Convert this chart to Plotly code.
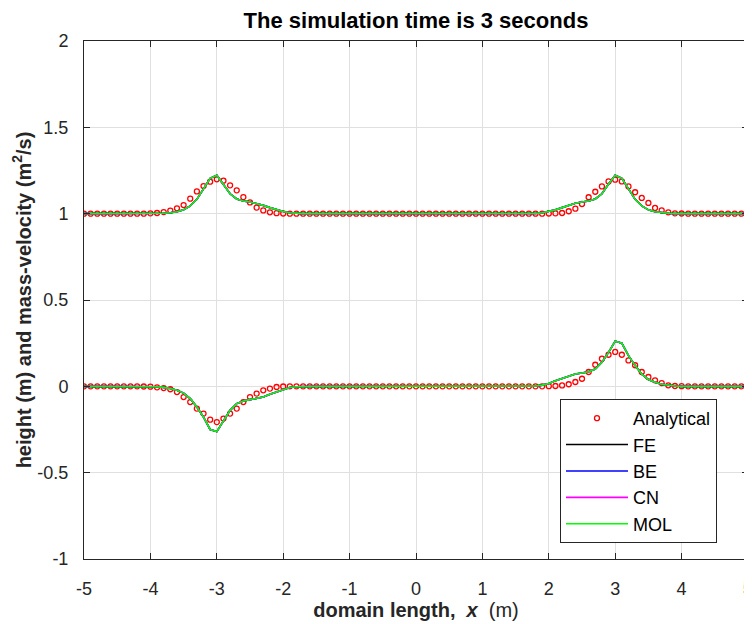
import numpy as np
import plotly.graph_objects as go

# spatial grid (m)
x = np.linspace(-5, 5, 101)

# analytical solution: height (m) and mass-velocity (m^2/s)
h_ana = [1.0, 1.0, 1.0, 1.0, 1.0, 1.0, 1.0, 1.0, 1.0, 1.0,
         1.002, 1.004, 1.009, 1.018, 1.031, 1.050, 1.087, 1.129, 1.160, 1.185,
         1.199, 1.191, 1.164, 1.135, 1.096, 1.065, 1.035, 1.019, 1.008, 1.003,
         1.001, 1.0, 1.0, 1.0, 1.0, 1.0, 1.0, 1.0, 1.0, 1.0,
         1.0, 1.0, 1.0, 1.0, 1.0, 1.0, 1.0, 1.0, 1.0, 1.0,
         1.0, 1.0, 1.0, 1.0, 1.0, 1.0, 1.0, 1.0, 1.0, 1.0,
         1.0, 1.0, 1.0, 1.0, 1.0, 1.0, 1.0, 1.0, 1.0, 1.0,
         1.001, 1.002, 1.004, 1.014, 1.029, 1.056, 1.095, 1.127, 1.158, 1.187,
         1.197, 1.187, 1.158, 1.124, 1.091, 1.062, 1.033, 1.019, 1.008, 1.002,
         1.001, 1.0, 1.0, 1.0, 1.0, 1.0, 1.0, 1.0, 1.0, 1.0, 1.0]

q_ana = [0.0, 0.0, 0.0, 0.0, 0.0, 0.0, 0.0, 0.0, 0.0, -0.001,
         -0.002, -0.006, -0.010, -0.017, -0.033, -0.062, -0.091, -0.129, -0.158, -0.193,
         -0.207, -0.187, -0.158, -0.129, -0.091, -0.062, -0.042, -0.023, -0.013, -0.004,
         -0.001, 0.0, 0.0, 0.0, 0.0, 0.0, 0.0, 0.0, 0.0, 0.0,
         0.0, 0.0, 0.0, 0.0, 0.0, 0.0, 0.0, 0.0, 0.0, 0.0,
         0.0, 0.0, 0.0, 0.0, 0.0, 0.0, 0.0, 0.0, 0.0, 0.0,
         0.0, 0.0, 0.0, 0.0, 0.0, 0.0, 0.0, 0.0, 0.0, 0.0,
         0.001, 0.002, 0.005, 0.012, 0.025, 0.044, 0.083, 0.125, 0.160, 0.183,
         0.199, 0.183, 0.150, 0.122, 0.083, 0.054, 0.035, 0.019, 0.006, 0.002,
         0.001, 0.0, 0.0, 0.0, 0.0, 0.0, 0.0, 0.0, 0.0, 0.0, 0.0]

# numerical solutions (FE, BE, CN, MOL practically coincide)
h_num = [1.0, 1.0, 1.0, 1.0, 1.0, 1.0, 1.0, 1.0, 1.0, 1.0,
         1.0, 1.0, 1.002, 1.005, 1.011, 1.022, 1.045, 1.083, 1.145, 1.205,
         1.222, 1.172, 1.115, 1.085, 1.073, 1.068, 1.060, 1.048, 1.035, 1.022,
         1.012, 1.005, 1.001, 1.0, 1.0, 1.0, 1.0, 1.0, 1.0, 1.0,
         1.0, 1.0, 1.0, 1.0, 1.0, 1.0, 1.0, 1.0, 1.0, 1.0,
         1.0, 1.0, 1.0, 1.0, 1.0, 1.0, 1.0, 1.0, 1.0, 1.0,
         1.0, 1.0, 1.0, 1.0, 1.0, 1.0, 1.0, 1.0, 1.001, 1.005,
         1.012, 1.022, 1.035, 1.048, 1.060, 1.068, 1.073, 1.085, 1.115, 1.172,
         1.222, 1.205, 1.145, 1.083, 1.045, 1.022, 1.011, 1.005, 1.002, 1.0,
         1.0, 1.0, 1.0, 1.0, 1.0, 1.0, 1.0, 1.0, 1.0, 1.0, 1.0]

q_num = [0.0, 0.0, 0.0, 0.0, 0.0, 0.0, 0.0, 0.0, 0.0, 0.0,
         0.0, -0.002, -0.006, -0.012, -0.023, -0.039, -0.071, -0.120, -0.178, -0.250,
         -0.262, -0.197, -0.139, -0.100, -0.085, -0.077, -0.071, -0.062, -0.046, -0.033,
         -0.017, -0.007, -0.002, 0.0, 0.0, 0.0, 0.0, 0.0, 0.0, 0.0,
         0.0, 0.0, 0.0, 0.0, 0.0, 0.0, 0.0, 0.0, 0.0, 0.0,
         0.0, 0.0, 0.0, 0.0, 0.0, 0.0, 0.0, 0.0, 0.0, 0.0,
         0.0, 0.0, 0.0, 0.0, 0.0, 0.0, 0.0, 0.0, 0.002, 0.007,
         0.017, 0.033, 0.046, 0.062, 0.071, 0.077, 0.085, 0.100, 0.139, 0.197,
         0.262, 0.250, 0.178, 0.120, 0.071, 0.039, 0.023, 0.012, 0.006, 0.002,
         0.0, 0.0, 0.0, 0.0, 0.0, 0.0, 0.0, 0.0, 0.0, 0.0, 0.0]

methods = ["FE", "BE", "CN", "MOL"]
method_colors = ["#000000", "#0000FF", "#FF00FF", "#00FF00"]

x_tick_vals = [-5, -4, -3, -2, -1, 0, 1, 2, 3, 4, 5]
x_tick_text = ["-5", "-4", "-3", "-2", "-1", "0", "1", "2", "3", "4", "5"]
y_tick_vals = [-1, -0.5, 0, 0.5, 1, 1.5, 2]
y_tick_text = ["-1", "-0.5", "0", "0.5", "1", "1.5", "2"]

xs = list(x) + [None] + list(x)

fig = go.Figure()
fig.add_trace(go.Scatter(
    x=xs, y=h_ana + [None] + q_ana, mode="markers", name="Analytical",
    marker=dict(symbol="circle-open", size=5, color="#FF0000", line=dict(width=1.3, color="#FF0000")),
))
for m, c in zip(methods, method_colors):
    fig.add_trace(go.Scatter(
        x=xs, y=h_num + [None] + q_num, mode="lines", name=m,
        line=dict(color=c, width=1.6),
    ))

font_family = "Liberation Sans, Arial, Helvetica, sans-serif"
tick_font = dict(size=18, color="#262626", family=font_family)
axis_common = dict(
    showline=True, linecolor="#262626", linewidth=1, mirror="ticks",
    ticks="inside", ticklen=6, tickcolor="#262626",
    showgrid=True, gridcolor="#e0e0e0", gridwidth=1, zeroline=False,
    tickfont=tick_font, automargin=False, ticklabeloverflow="allow",
)
fig.update_xaxes(range=[-5, 5], tickvals=x_tick_vals, ticktext=x_tick_text, ticklabelstandoff=13,
                 title=dict(text="<b>domain length,  <i>x</i></b>  (m)", font=dict(size=20, color="#262626"), standoff=0),
                 **axis_common)
fig.update_yaxes(range=[-1, 2], tickvals=y_tick_vals, ticktext=y_tick_text, ticklabelstandoff=11,
                 title=dict(text="<b>height (m) and mass-velocity (m<sup>2</sup>/s)</b>", font=dict(size=20, color="#262626"), standoff=0),
                 **axis_common)

# the last x tick label sits on the right edge of the figure, where plotly suppresses it;
# place it at the same data position as a label
fig.add_annotation(x=x_tick_vals[-1], xref="x", y=0, yref="paper", yanchor="middle", yshift=-29,
                   text=x_tick_text[-1], showarrow=False, font=tick_font)

# the page body adds an 8 px offset; the figure is sized to fit the window without overflow
# so the plot box sits at 84..748 x 41..559 on the page
fig.update_layout(
    width=744, height=616,
    margin=dict(l=76, r=4, t=33, b=65, autoexpand=False),
    paper_bgcolor="white", plot_bgcolor="white",
    font=dict(family=font_family, color="#262626"),
    title=dict(text="<b>The simulation time is 3 seconds</b>", x=0.5, xref="paper", xanchor="center",
               y=1 - 12.5 / 616, yanchor="middle", font=dict(size=22, color="#000000")),
    legend=dict(x=0.9533, y=0.031, xanchor="right", yanchor="bottom",
                bgcolor="white", bordercolor="#262626", borderwidth=1,
                font=dict(size=18, color="#000000"), itemwidth=62, tracegroupgap=0,
                traceorder="normal"),
    showlegend=True,
)

fig.write_html("out.html")
